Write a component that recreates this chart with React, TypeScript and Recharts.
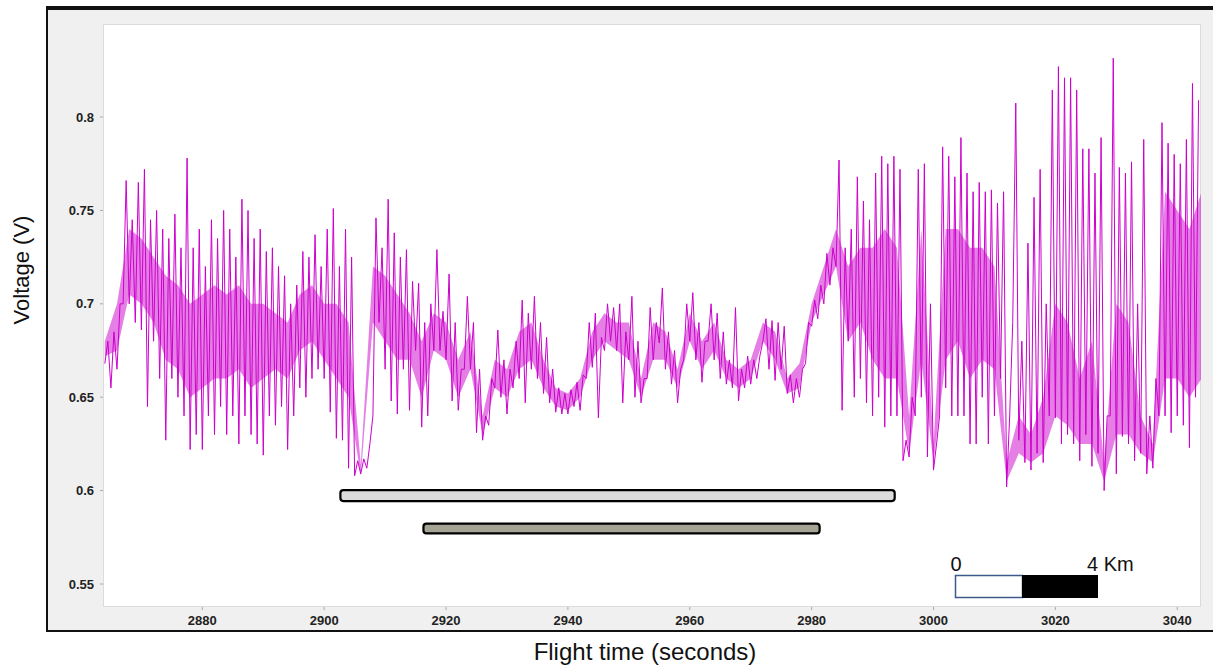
import React from "react";
import { ComposedChart, Line, Area, XAxis, YAxis, ReferenceArea } from "recharts";

// one-second windows starting at T0: peak (hi) and trough (lo) voltage
const T0 = 2864;
const hiV = [
  0.680, 0.685, 0.700, 0.766, 0.745, 0.765, 0.772, 0.745, 0.750, 0.740,
  0.735, 0.748, 0.730, 0.778, 0.730, 0.740, 0.720, 0.745, 0.735, 0.750,
  0.740, 0.725, 0.756, 0.750, 0.735, 0.740, 0.728, 0.730, 0.720, 0.715,
  0.700, 0.710, 0.728, 0.725, 0.737, 0.720, 0.740, 0.751, 0.720, 0.740,
  0.725, 0.616, 0.617, 0.625, 0.746, 0.730, 0.756, 0.738, 0.725, 0.729,
  0.712, 0.711, 0.690, 0.700, 0.729, 0.696, 0.716, 0.690, 0.665, 0.704,
  0.690, 0.665, 0.640, 0.660, 0.686, 0.670, 0.665, 0.680, 0.702, 0.695,
  0.704, 0.690, 0.682, 0.665, 0.655, 0.652, 0.654, 0.658, 0.662, 0.690,
  0.695, 0.682, 0.700, 0.698, 0.700, 0.685, 0.704, 0.680, 0.660, 0.698,
  0.690, 0.7085, 0.685, 0.675, 0.665, 0.700, 0.706, 0.690, 0.680, 0.700,
  0.695, 0.685, 0.670, 0.698, 0.665, 0.672, 0.670, 0.672, 0.692, 0.691,
  0.690, 0.688, 0.662, 0.660, 0.665, 0.690, 0.702, 0.710, 0.727, 0.730,
  0.777, 0.730, 0.740, 0.768, 0.755, 0.745, 0.770, 0.779, 0.775, 0.779,
  0.772, 0.627, 0.650, 0.772, 0.775, 0.700, 0.625, 0.784, 0.779, 0.768,
  0.789, 0.770, 0.760, 0.765, 0.760, 0.761, 0.754, 0.760, 0.640, 0.8075,
  0.680, 0.7325, 0.757, 0.772, 0.700, 0.8145, 0.827, 0.821, 0.821, 0.8145,
  0.783, 0.783, 0.770, 0.789, 0.640, 0.8315, 0.773, 0.770, 0.776, 0.700,
  0.788, 0.640, 0.660, 0.797, 0.786, 0.780, 0.775, 0.788, 0.818, 0.809,
];
const loV = [
  0.668, 0.655, 0.665, 0.700, 0.700, 0.690, 0.686, 0.645, 0.680, 0.660,
  0.627, 0.660, 0.650, 0.640, 0.622, 0.630, 0.622, 0.640, 0.630, 0.645,
  0.630, 0.640, 0.625, 0.640, 0.630, 0.625, 0.619, 0.640, 0.635, 0.645,
  0.622, 0.640, 0.655, 0.650, 0.660, 0.665, 0.660, 0.642, 0.628, 0.627,
  0.612, 0.608, 0.609, 0.612, 0.640, 0.690, 0.665, 0.648, 0.641, 0.665,
  0.643, 0.675, 0.634, 0.640, 0.675, 0.675, 0.670, 0.648, 0.643, 0.665,
  0.665, 0.631, 0.627, 0.635, 0.655, 0.650, 0.641, 0.655, 0.660, 0.647,
  0.665, 0.660, 0.652, 0.647, 0.642, 0.641, 0.641, 0.645, 0.643, 0.660,
  0.666, 0.639, 0.675, 0.680, 0.675, 0.647, 0.670, 0.650, 0.647, 0.660,
  0.670, 0.679, 0.665, 0.657, 0.647, 0.670, 0.680, 0.670, 0.658, 0.680,
  0.670, 0.660, 0.657, 0.655, 0.648, 0.655, 0.657, 0.660, 0.680, 0.665,
  0.659, 0.665, 0.652, 0.647, 0.650, 0.668, 0.688, 0.692, 0.700, 0.710,
  0.720, 0.643, 0.680, 0.650, 0.660, 0.647, 0.640, 0.650, 0.634, 0.640,
  0.640, 0.616, 0.618, 0.640, 0.650, 0.618, 0.611, 0.640, 0.655, 0.640,
  0.640, 0.640, 0.625, 0.625, 0.650, 0.625, 0.640, 0.660, 0.602, 0.690,
  0.627, 0.615, 0.611, 0.620, 0.615, 0.640, 0.639, 0.625, 0.630, 0.625,
  0.616, 0.630, 0.613, 0.620, 0.600, 0.640, 0.609, 0.629, 0.625, 0.616,
  0.620, 0.609, 0.612, 0.640, 0.640, 0.631, 0.640, 0.635, 0.623, 0.650,
];

// dense core band of the trace, every 2 seconds from 2864
const coreTimes = [
  2864, 2866, 2868, 2870, 2872, 2874, 2876, 2878, 2880, 2882, 2884, 2886, 2888, 2890, 2892, 2894,
  2896, 2898, 2900, 2902, 2904, 2906, 2908, 2910, 2912, 2914, 2916, 2918, 2920, 2922, 2924, 2926,
  2928, 2930, 2932, 2934, 2936, 2938, 2940, 2942, 2944, 2946, 2948, 2950, 2952, 2954, 2956, 2958,
  2960, 2962, 2964, 2966, 2968, 2970, 2972, 2974, 2976, 2978, 2980, 2982, 2984, 2986, 2988, 2990,
  2992, 2994, 2996, 2998, 3000, 3002, 3004, 3006, 3008, 3010, 3012, 3014, 3016, 3018, 3020, 3022,
  3024, 3026, 3028, 3030, 3032, 3034, 3036, 3038, 3040, 3042, 3044,
];
const coreLo = [
  0.672, 0.675, 0.705, 0.700, 0.690, 0.670, 0.665, 0.650, 0.655, 0.660, 0.660, 0.665, 0.655, 0.660, 0.665, 0.660,
  0.675, 0.680, 0.670, 0.660, 0.650, 0.608, 0.690, 0.680, 0.670, 0.670, 0.650, 0.675, 0.670, 0.650, 0.665, 0.630,
  0.655, 0.650, 0.665, 0.670, 0.655, 0.645, 0.643, 0.650, 0.670, 0.680, 0.675, 0.670, 0.650, 0.670, 0.670, 0.655,
  0.680, 0.665, 0.675, 0.660, 0.655, 0.660, 0.680, 0.670, 0.652, 0.655, 0.690, 0.705, 0.720, 0.680, 0.690, 0.670,
  0.660, 0.660, 0.620, 0.670, 0.615, 0.670, 0.680, 0.660, 0.670, 0.665, 0.605, 0.620, 0.615, 0.620, 0.640, 0.635,
  0.625, 0.625, 0.605, 0.630, 0.630, 0.620, 0.615, 0.660, 0.660, 0.650, 0.660,
];
const coreHi = [
  0.680, 0.700, 0.740, 0.735, 0.725, 0.715, 0.710, 0.700, 0.705, 0.710, 0.705, 0.710, 0.700, 0.700, 0.695, 0.690,
  0.705, 0.710, 0.700, 0.700, 0.690, 0.614, 0.720, 0.715, 0.705, 0.695, 0.680, 0.695, 0.690, 0.670, 0.685, 0.640,
  0.670, 0.665, 0.685, 0.690, 0.670, 0.655, 0.652, 0.660, 0.685, 0.695, 0.690, 0.690, 0.660, 0.690, 0.685, 0.665,
  0.695, 0.680, 0.690, 0.670, 0.665, 0.670, 0.690, 0.685, 0.660, 0.668, 0.700, 0.720, 0.740, 0.720, 0.730, 0.730,
  0.740, 0.730, 0.640, 0.740, 0.625, 0.740, 0.740, 0.730, 0.730, 0.720, 0.615, 0.640, 0.630, 0.650, 0.700, 0.690,
  0.660, 0.680, 0.615, 0.700, 0.690, 0.640, 0.625, 0.760, 0.750, 0.740, 0.760,
];

const xTicks = [2880, 2900, 2920, 2940, 2960, 2980, 3000, 3020, 3040];
const yTicks = [0.55, 0.6, 0.65, 0.7, 0.75, 0.8];

// flight segments (start, end seconds; voltage band)
const bar1 = { x1: 2902.66, x2: 2993.63, y1: 0.5944, y2: 0.6003 };
const bar2 = { x1: 2916.29, x2: 2981.31, y1: 0.5771, y2: 0.5823 };

const traceData = hiV.flatMap((h, i) => [
  { t: T0 + i, v: loV[i] },
  { t: T0 + i + 0.5, v: h },
]);
const coreData = coreTimes.map((t, i) => ({ t, band: [coreLo[i], coreHi[i]] }));

const FONT = "'Liberation Sans', Arial, sans-serif";
const tickStyle = { fontFamily: FONT, fontSize: 13, fontWeight: 700, fill: "#222" };

const RoundBar = (fill: string) => (p: any) => (
  <rect x={p.x} y={p.y} width={p.width} height={p.height} rx={3} ry={3} fill={fill} stroke="#000" strokeWidth={2.2} />
);

export default function App() {
  return (
    <div style={{ position: "absolute", left: 0, top: 0, width: 1213, height: 668, background: "#fff", overflow: "hidden" }}>
      {/* gray panel with frame */}
      <div style={{ position: "absolute", left: 46, top: 6, width: 1180, height: 626, boxSizing: "border-box", background: "#f0f0f0", borderLeft: "2px solid #111", borderTop: "4px solid #111", borderBottom: "2px solid #111" }} />
      {/* plot background */}
      <div style={{ position: "absolute", left: 103, top: 24, width: 1098, height: 583, boxSizing: "border-box", background: "#fff", border: "1px solid #dcdcdc" }} />
      <div style={{ position: "absolute", left: 0, top: 0 }}>
        <ComposedChart width={1213} height={668} margin={{ top: 24, right: 12, bottom: 31, left: 48 }}>
          <XAxis
            dataKey="t"
            type="number"
            domain={[2863.7, 3043.9]}
            ticks={xTicks}
            allowDataOverflow
            axisLine={false}
            tickLine={{ stroke: "#aaa" }}
            tickSize={3}
            tick={tickStyle}
            height={30}
            tickMargin={6}
          />
          <YAxis
            type="number"
            domain={[0.5377, 0.8498]}
            ticks={yTicks}
            allowDataOverflow
            axisLine={false}
            tickLine={{ stroke: "#aaa" }}
            tickSize={3}
            tick={tickStyle}
            width={55}
            tickMargin={6}
          />
          <Area data={coreData} type="linear" dataKey="band" stroke="none" fill="#cc00cc" fillOpacity={0.5} isAnimationActive={false} />
          <Line data={traceData} type="linear" dataKey="v" stroke="#cc00cc" strokeWidth={1} dot={false} isAnimationActive={false} />
          <ReferenceArea x1={bar1.x1} x2={bar1.x2} y1={bar1.y1} y2={bar1.y2} shape={RoundBar("#dcdcdc")} ifOverflow="visible" />
          <ReferenceArea x1={bar2.x1} x2={bar2.x2} y1={bar2.y1} y2={bar2.y2} shape={RoundBar("#a5a394")} ifOverflow="visible" />
        </ComposedChart>
      </div>
      {/* scale bar */}
      <svg style={{ position: "absolute", left: 0, top: 0 }} width={1213} height={668}>
        <rect x={955.5} y={575.5} width={67} height={22} fill="#fff" stroke="#3c5a8a" strokeWidth={1.5} />
        <rect x={1022} y={575} width={76} height={23} fill="#000" />
        <text x={956} y={571} textAnchor="middle" fontFamily={FONT} fontSize={20} fill="#111">0</text>
        <text x={1087} y={571} fontFamily={FONT} fontSize={20} fill="#111">4 Km</text>
      </svg>
      {/* axis titles */}
      <div style={{ position: "absolute", left: 0, top: 638, width: 1290, textAlign: "center", fontFamily: FONT, fontSize: 24, color: "#111", lineHeight: "28px" }}>
        Flight time (seconds)
      </div>
      <div style={{ position: "absolute", left: 22, top: 270, width: 0, height: 0 }}>
        <div style={{ position: "absolute", transform: "translate(-50%, -50%) rotate(-90deg)", whiteSpace: "nowrap", fontFamily: FONT, fontSize: 22, color: "#111", lineHeight: "26px" }}>
          Voltage (V)
        </div>
      </div>
    </div>
  );
}
